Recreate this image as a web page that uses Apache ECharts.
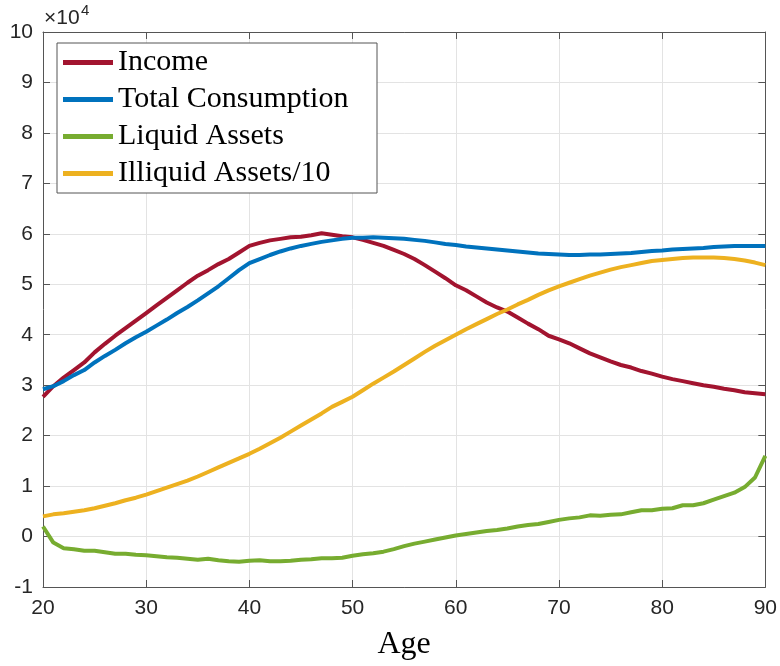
<!DOCTYPE html>
<html>
<head>
<meta charset="utf-8">
<script src="https://cdn.jsdelivr.net/npm/echarts@6/dist/echarts.min.js"></script>
<style>
  html, body { margin: 0; padding: 0; background: #ffffff; }
  #chart { width: 780px; height: 666px; }
</style>
</head>
<body>
<div id="chart"></div>
<script>
// Life-cycle profiles by age, values in units of 10^4
const ages = [];
for (let a = 20; a <= 90; a++) ages.push(a);

const income = [
  2.77, 2.98, 3.15, 3.30, 3.45, 3.65, 3.82, 3.98, 4.13, 4.28,
  4.43, 4.58, 4.73, 4.88, 5.03, 5.17, 5.28, 5.40, 5.50, 5.63,
  5.76, 5.82, 5.87, 5.90, 5.93, 5.94, 5.97, 6.01, 5.98, 5.95,
  5.93, 5.88, 5.82, 5.76, 5.68, 5.60, 5.50, 5.38, 5.25, 5.12,
  4.98, 4.88, 4.76, 4.64, 4.54, 4.46, 4.34, 4.22, 4.11, 3.98,
  3.91, 3.83, 3.73, 3.63, 3.55, 3.47, 3.40, 3.35, 3.28, 3.23,
  3.17, 3.12, 3.08, 3.04, 3.00, 2.97, 2.93, 2.90, 2.86, 2.84,
  2.82
];

const consumption = [
  2.92, 2.98, 3.08, 3.20, 3.30, 3.45, 3.58, 3.70, 3.83, 3.95,
  4.06, 4.18, 4.30, 4.43, 4.55, 4.68, 4.82, 4.96, 5.12, 5.28,
  5.42, 5.50, 5.58, 5.65, 5.71, 5.76, 5.80, 5.84, 5.87, 5.90,
  5.92, 5.92, 5.93, 5.92, 5.91, 5.90, 5.88, 5.86, 5.83, 5.80,
  5.78, 5.75, 5.73, 5.71, 5.69, 5.67, 5.65, 5.63, 5.61, 5.60,
  5.59, 5.58, 5.58, 5.59, 5.59, 5.60, 5.61, 5.62, 5.64, 5.66,
  5.67, 5.69, 5.70, 5.71, 5.72, 5.74, 5.75, 5.76, 5.76, 5.76,
  5.76
];

const liquid = [
  0.20, -0.12, -0.23, -0.25, -0.28, -0.28, -0.31, -0.34, -0.34, -0.36,
  -0.37, -0.39, -0.41, -0.42, -0.44, -0.46, -0.44, -0.47, -0.49, -0.50,
  -0.48, -0.47, -0.49, -0.49, -0.48, -0.46, -0.45, -0.43, -0.43, -0.42,
  -0.38, -0.35, -0.33, -0.30, -0.25, -0.19, -0.14, -0.10, -0.06, -0.02,
  0.02, 0.05, 0.08, 0.11, 0.13, 0.16, 0.20, 0.23, 0.25, 0.29,
  0.33, 0.36, 0.38, 0.42, 0.41, 0.43, 0.44, 0.48, 0.52, 0.52,
  0.55, 0.56, 0.62, 0.62, 0.66, 0.73, 0.80, 0.87, 0.98, 1.17,
  1.60
];

const illiquidTenth = [
  0.40, 0.44, 0.46, 0.49, 0.52, 0.56, 0.61, 0.66, 0.72, 0.77,
  0.83, 0.90, 0.97, 1.04, 1.11, 1.19, 1.28, 1.37, 1.46, 1.55,
  1.64, 1.74, 1.85, 1.96, 2.08, 2.20, 2.32, 2.44, 2.57, 2.67,
  2.77, 2.90, 3.03, 3.15, 3.27, 3.40, 3.53, 3.66, 3.78, 3.89,
  4.00, 4.11, 4.21, 4.31, 4.41, 4.50, 4.60, 4.69, 4.79, 4.88,
  4.96, 5.03, 5.10, 5.17, 5.23, 5.29, 5.34, 5.38, 5.42, 5.46,
  5.48, 5.50, 5.52, 5.53, 5.53, 5.53, 5.52, 5.50, 5.47, 5.43,
  5.38
];

const seriesNames = ['Income', 'Total Consumption', 'Liquid Assets', 'Illiquid Assets/10'];
const seriesColors = ['#A2142F', '#0072BD', '#77AC30', '#EDB120'];
const seriesValues = [income, consumption, liquid, illiquidTenth];

const chart = echarts.init(document.getElementById('chart'), null, { renderer: 'canvas' });

const axisColor = '#555555';
const labelColor = '#262626';
const gridColor = '#e3e3e3';

const xBase = {
  type: 'value', min: 20, max: 90, interval: 10,
  axisLine: { show: true, onZero: false, lineStyle: { color: axisColor, width: 1 } },
  axisTick: { show: true, inside: true, length: 7, lineStyle: { color: axisColor } },
  splitLine: { show: false }
};
const yBase = {
  type: 'value', min: -1, max: 10, interval: 1,
  axisLine: { show: true, onZero: false, lineStyle: { color: axisColor, width: 1 } },
  axisTick: { show: true, inside: true, length: 7, lineStyle: { color: axisColor } },
  splitLine: { show: false }
};

chart.setOption({
  animation: false,
  backgroundColor: '#ffffff',
  grid: { left: 43, right: 12, top: 32, bottom: 71, containLabel: false },
  xAxis: [
    Object.assign({}, xBase, {
      position: 'bottom',
      name: 'Age', nameLocation: 'middle', nameGap: 42,
      nameTextStyle: { fontFamily: 'Liberation Serif', fontSize: 32, color: '#000000' },
      axisLabel: { show: true, margin: 11, fontFamily: 'Liberation Sans', fontSize: 21, color: labelColor },
      splitLine: { show: true, lineStyle: { color: gridColor, width: 1 } }
    }),
    Object.assign({}, xBase, { position: 'top', axisLabel: { show: false } })
  ],
  yAxis: [
    Object.assign({}, yBase, {
      position: 'left',
      axisLabel: { show: true, margin: 10, fontFamily: 'Liberation Sans', fontSize: 21, color: labelColor },
      splitLine: { show: true, lineStyle: { color: gridColor, width: 1 } }
    }),
    Object.assign({}, yBase, { position: 'right', axisLabel: { show: false } })
  ],
  legend: {
    left: 57, top: 43, orient: 'vertical',
    data: seriesNames,
    icon: 'rect', itemWidth: 50, itemHeight: 5, itemGap: 6,
    width: 300,
    padding: [4, 4, 4, 6],
    backgroundColor: '#ffffff',
    borderColor: '#555555', borderWidth: 1, borderRadius: 0,
    textStyle: { fontFamily: 'Liberation Serif', fontSize: 30, color: '#000000', lineHeight: 31, width: 255 }
  },
  graphic: [
    {
      type: 'text', left: 44, top: 8,
      style: { text: '×10', fontFamily: 'Liberation Sans', fontSize: 21, fill: labelColor }
    },
    {
      type: 'text', left: 81, top: 3,
      style: { text: '4', fontFamily: 'Liberation Sans', fontSize: 15, fill: labelColor }
    }
  ],
  series: seriesNames.map((name, i) => ({
    name: name,
    type: 'line',
    data: ages.map((a, k) => [a, seriesValues[i][k]]),
    symbol: 'none',
    smooth: false,
    color: seriesColors[i],
    lineStyle: { color: seriesColors[i], width: 4 },
    z: 3 + i
  }))
});
</script>
</body>
</html>
